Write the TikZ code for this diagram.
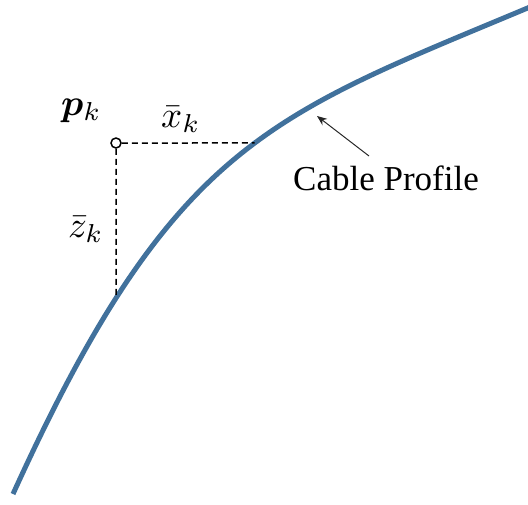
\documentclass[tikz,border=0pt]{standalone}
\usepackage{fontspec}
\setmainfont{Liberation Serif}
\newfontfamily\capfont{Liberation Serif}
\usepackage{amsmath}
\usepackage{bm}
\usepackage{graphicx}
\usetikzlibrary{arrows.meta,intersections}
\definecolor{cable}{RGB}{65,113,156}
\newcommand{\biglbl}[1]{\scalebox{3.7}{#1}}
\tikzset{
  cablepath/.style={draw=cable, line width=5pt},
  dimline/.style={draw=black, line width=1.5pt, dash pattern=on 6pt off 4pt},
  mathlbl/.style={inner sep=0pt, anchor=base west},
  txtlbl/.style={inner sep=0pt, anchor=base west, font=\capfont\fontsize{35}{40}\selectfont},
  pointer/.style={draw=black!85, line width=1pt, -{Stealth[length=10pt,width=8pt]}}
}
\begin{document}
\begin{tikzpicture}[x=1pt,y=-1pt]
\useasboundingbox (0,0) rectangle (528,504);
\path[cablepath, name path=curve] (13,494) .. controls (173,142) and (270,116) .. (530,7);
\coordinate (p) at (116,143);
\path[name path=hline] (p) -- (400,143);
\path[name path=vline] (p) -- (116,450);
\path[name intersections={of=curve and hline, by=hx}];
\path[name intersections={of=curve and vline, by=vz}];
\node[draw=black, line width=1.5pt, circle, fill=white, minimum size=10pt, inner sep=0pt] (pc) at (p) {};
\draw[dimline] (pc.east) -- (hx);
\draw[dimline] (pc.south) -- (vz);
\node[mathlbl] (plbl) at (61,115) {\biglbl{$\bm{p}_k$}};
\node[mathlbl] (xlbl) at (161,127) {\biglbl{$\bar{x}_k$}};
\node[mathlbl] (zlbl) at (68,237) {\biglbl{$\bar{z}_k$}};
\node[txtlbl] (cbl) at (293,190) {Cable Profile};
\coordinate (tip) at (317,116);
\coordinate (tail) at (369,156);
\draw[pointer] (tail) -- (tip);
\end{tikzpicture}
\end{document}
